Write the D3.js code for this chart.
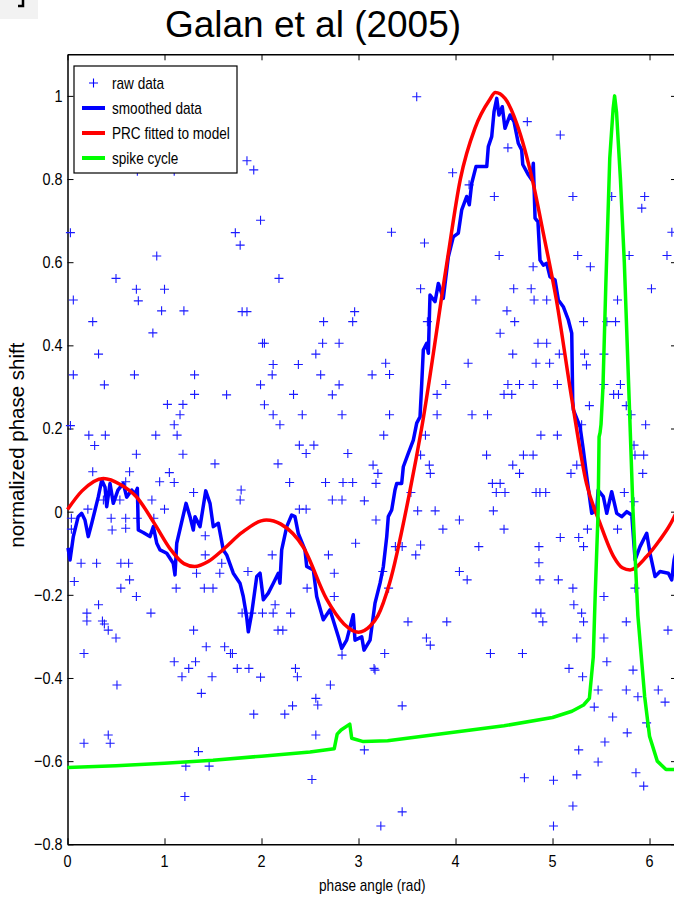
<!DOCTYPE html>
<html>
<head>
<meta charset="utf-8">
<script src="https://cdn.jsdelivr.net/npm/d3@7"></script>
<style>
  html, body { margin: 0; padding: 0; background: #fff; }
  svg { display: block; font-family: "Liberation Sans", Arial, Helvetica, sans-serif; }
</style>
</head>
<body>
<div id="chart"></div>
<script>
// phase angle (rad), normalized phase shift
const rawData = [
  [0.06,0.509],[0.26,0.457],[0.50,0.561],[0.71,0.535],[0.73,0.507],[1.00,0.535],[0.97,0.483],[1.20,0.483],
  [0.92,0.615],[0.88,0.430],[0.32,0.379],[0.06,0.329],[0.38,0.305],[0.69,0.329],[1.31,0.329],[1.31,0.282],
  [1.03,0.258],[1.19,0.258],[1.16,0.233],[1.10,0.209],[1.13,0.184],[1.19,0.138],[0.91,0.184],[0.71,0.138],
  [0.03,0.207],[0.22,0.184],[0.28,0.159],[0.39,0.184],[0.26,0.096],[0.64,0.096],[0.60,0.072],[0.95,0.072],
  [1.05,0.094],[1.10,0.070],[1.30,0.046],[0.87,0.028],[1.00,0.006],[0.04,-0.016],[0.21,0.006],[0.37,0.028],
  [0.54,0.028],[0.45,-0.016],[0.46,-0.044],[0.60,-0.016],[0.60,-0.040],[0.72,-0.016],[0.89,-0.016],[0.04,-0.042],
  [1.42,-0.058],[1.52,0.115],[1.64,0.281],[1.80,0.481],[1.85,0.481],[1.78,0.641],[2.18,0.561],[1.99,0.305],
  [2.01,0.405],[2.03,0.405],[2.12,0.354],[2.11,0.329],[2.03,0.257],[2.12,0.233],[2.19,0.209],[2.17,0.115],
  [2.33,0.282],[2.38,0.354],[2.42,0.233],[2.39,0.160],[2.46,0.140],[2.54,0.160],[2.29,0.070],[2.39,0.006],
  [2.46,0.006],[2.56,0.379],[2.63,0.405],[2.64,0.457],[2.61,0.329],[2.80,0.405],[2.80,0.305],[2.73,0.281],
  [2.83,0.233],[2.89,0.140],[2.66,0.070],[2.84,0.070],[2.94,0.070],[2.73,0.028],[2.83,0.028],[2.94,0.457],
  [2.96,0.481],[2.97,-0.076],[1.79,0.052],[1.78,0.028],
  [0.14,-0.124],[0.30,-0.124],[0.55,-0.124],[0.63,-0.124],[0.07,-0.168],[0.64,-0.164],[0.55,-0.184],[0.71,-0.204],
  [0.32,-0.224],[0.20,-0.244],[0.20,-0.263],[0.36,-0.263],[0.38,-0.270],[0.42,-0.285],[0.50,-0.304],[0.86,-0.244],
  [0.17,-0.341],[0.51,-0.417],[0.17,-0.557],[0.42,-0.537],[0.44,-0.557],[1.12,-0.184],[1.33,-0.148],[1.42,-0.104],
  [1.41,-0.184],[1.50,-0.184],[1.59,-0.124],[1.57,-0.148],[1.30,-0.285],[1.43,-0.325],[1.62,-0.325],[1.68,-0.341],
  [1.70,-0.341],[1.10,-0.361],[1.25,-0.377],[1.32,-0.361],[1.18,-0.397],[1.49,-0.397],[1.38,-0.437],[1.75,-0.377],
  [1.87,-0.377],[1.99,-0.398],[1.86,-0.144],[1.80,-0.244],[1.90,-0.244],[2.01,-0.244],[2.12,-0.244],[2.14,-0.224],
  [2.17,-0.285],[2.22,-0.285],[2.30,-0.244],[2.11,-0.104],[2.35,-0.377],[2.37,-0.397],[1.92,-0.487],[2.24,-0.487],
  [2.32,-0.467],[2.58,-0.465],[2.56,-0.449],[2.71,-0.417],[2.47,-0.184],[2.69,-0.104],[2.75,-0.148],[2.75,-0.204],
  [2.83,-0.345],[3.16,-0.377],[2.56,-0.537],[3.06,-0.573],[1.35,-0.577],[1.22,-0.612],[1.46,-0.612],[2.52,-0.644],
  [1.21,-0.685],
  [1.85,0.844],[0.72,0.819],[1.10,0.819],[0.03,0.671],[1.73,0.671],[1.99,0.701],[1.92,0.822],
  [3.60,0.998],[4.74,0.938],[5.08,0.906],[4.54,0.875],[3.97,0.815],[4.14,0.786],[4.40,0.758],[5.21,0.758],
  [5.61,0.758],[5.95,0.758],[5.92,0.730],[3.34,0.672],[3.68,0.646],[6.23,0.672],[4.45,0.616],[4.80,0.589],
  [5.26,0.616],[5.39,0.589],[5.79,0.616],[6.18,0.616],[6.02,0.536],[3.64,0.536],[4.60,0.536],[4.78,0.536],
  [4.21,0.509],[4.81,0.509],[4.94,0.509],[5.67,0.509],[3.71,0.457],[4.53,0.483],[4.61,0.457],[5.32,0.457],
  [5.56,0.457],[5.65,0.457],[4.46,0.429],[4.85,0.405],[4.94,0.405],[4.59,0.379],[5.07,0.379],[5.33,0.379],
  [5.53,0.379],[5.35,0.353],[3.28,0.357],[3.32,0.330],[3.14,0.329],[4.13,0.357],[4.83,0.357],[4.97,0.357],
  [3.90,0.306],[3.81,0.282],[4.54,0.306],[4.66,0.306],[4.80,0.306],[5.05,0.306],[4.50,0.282],[4.58,0.282],
  [5.53,0.306],[5.70,0.306],[5.63,0.282],[5.68,0.282],
  [5.38,0.255],[5.76,0.255],[5.81,0.233],[3.32,0.233],[3.81,0.233],[4.17,0.233],[4.33,0.233],[5.96,0.209],
  [5.30,0.209],[3.26,0.184],[3.69,0.184],[4.88,0.184],[5.05,0.184],[5.84,0.160],[3.64,0.136],[4.32,0.136],
  [4.70,0.136],[4.80,0.136],[5.85,0.136],[5.94,0.136],[3.15,0.112],[3.73,0.112],[4.59,0.112],[5.25,0.112],
  [3.20,0.092],[3.74,0.092],[4.66,0.092],[5.19,0.092],[5.93,0.092],[3.18,0.068],[4.38,0.068],[4.46,0.068],
  [3.06,0.026],[3.54,0.046],[4.42,0.046],[4.51,0.046],[4.83,0.046],[4.87,0.046],[4.93,0.046],[5.74,0.046],
  [5.84,0.024],[3.61,0.002],[3.79,0.002],[4.04,-0.020],[4.39,0.002],[3.18,-0.020],[3.87,-0.042],[4.50,-0.042],
  [5.36,-0.042],[5.67,-0.042],[5.08,-0.062],[5.27,-0.062],[5.32,-0.084],[3.38,-0.084],[3.45,-0.084],[3.64,-0.080],
  [3.59,-0.104],[4.24,-0.084],[4.86,-0.084],[4.86,-0.123],[4.04,-0.144],[4.12,-0.164],[3.25,-0.144],[4.87,-0.164],
  [5.06,-0.164],[5.21,-0.184],[5.53,-0.204],[5.85,-0.184],[3.31,-0.184],[5.22,-0.224],[5.30,-0.244],[4.83,-0.244],
  [4.88,-0.244],[4.90,-0.265],[5.32,-0.265],[5.76,-0.265],[3.51,-0.265],[3.91,-0.265],[6.19,-0.285],[5.25,-0.304],
  [5.53,-0.304],[3.70,-0.304],[3.74,-0.321],[3.27,-0.341],[4.36,-0.341],[4.69,-0.341],[5.17,-0.377],[5.56,-0.361],
  [5.83,-0.381],[5.31,-0.397],[5.88,-0.445],[3.17,-0.381],
  [3.45,-0.467],[3.23,-0.756],[3.45,-0.722],[4.71,-0.640],[5.01,-0.646],[5.01,-0.756],[5.21,-0.708],[5.94,-0.660],
  [5.27,-0.573],[5.47,-0.602],[5.54,-0.554],[5.77,-0.532],[5.86,-0.628],[5.97,-0.508],[6.09,-0.429],[6.16,-0.458],
  [5.25,-0.633],[5.47,-0.429],[5.76,-0.429],[5.62,-0.494],[5.43,-0.470]
];

const smoothedData = [
  [0.005,-0.087],[0.026,-0.116],[0.06,-0.060],[0.11,-0.012],[0.146,-0.004],[0.18,-0.02],[0.214,-0.060],[0.25,-0.028],
  [0.284,0.004],[0.318,0.036],[0.353,0.076],[0.387,0.059],[0.404,0.012],[0.438,0.068],[0.472,0.020],[0.52,0.052],
  [0.575,0.068],[0.61,0.035],[0.662,0.052],[0.696,0.043],[0.72,0.056],[0.73,-0.044],[0.78,-0.050],[0.85,-0.060],
  [0.885,-0.036],[0.92,-0.076],[0.954,-0.092],[1.023,-0.100],[1.09,-0.124],[1.108,-0.152],[1.126,-0.076],[1.222,0.020],
  [1.263,-0.012],[1.297,-0.044],[1.314,-0.012],[1.366,-0.036],[1.425,0.050],[1.469,0.020],[1.503,-0.036],[1.555,-0.028],
  [1.606,-0.092],[1.641,-0.104],[1.709,-0.148],[1.778,-0.172],[1.812,-0.204],[1.847,-0.253],[1.864,-0.289],[1.899,-0.244],
  [1.951,-0.156],[1.985,-0.148],[2.019,-0.212],[2.07,-0.196],[2.122,-0.172],[2.173,-0.148],[2.19,-0.172],[2.208,-0.092],
  [2.26,-0.036],[2.311,-0.008],[2.345,-0.012],[2.379,-0.052],[2.448,-0.092],[2.466,-0.132],[2.534,-0.140],[2.569,-0.204],
  [2.637,-0.260],[2.706,-0.236],[2.792,-0.301],[2.827,-0.329],[2.878,-0.309],[2.946,-0.248],[2.964,-0.309],[3.033,-0.301],
  [3.057,-0.333],[3.119,-0.309],[3.170,-0.220],[3.222,-0.172],[3.256,-0.132],[3.291,-0.060],[3.307,-0.012],[3.342,0.004],
  [3.376,0.052],[3.394,0.068],[3.445,0.068],[3.462,0.108],[3.513,0.140],[3.565,0.172],[3.6,0.213],[3.634,0.228],
  [3.652,0.309],[3.668,0.389],[3.703,0.405],[3.72,0.381],[3.737,0.521],[3.789,0.505],[3.823,0.549],[3.874,0.513],
  [3.926,0.613],[3.977,0.661],[4.029,0.670],[4.064,0.726],[4.115,0.758],[4.142,0.738],[4.167,0.790],[4.211,0.830],
  [4.322,0.830],[4.338,0.878],[4.373,0.902],[4.397,0.962],[4.425,0.994],[4.448,0.954],[4.482,0.974],[4.510,0.922],
  [4.562,0.954],[4.603,0.938],[4.647,0.886],[4.682,0.870],[4.693,0.835],[4.751,0.810],[4.786,0.798],[4.802,0.838],
  [4.82,0.706],[4.85,0.697],[4.871,0.605],[4.905,0.593],[4.940,0.597],[4.974,0.565],[5.026,0.557],[5.060,0.509],
  [5.111,0.493],[5.163,0.461],[5.198,0.429],[5.208,0.269],[5.215,0.245],[5.284,0.204],[5.318,0.148],[5.353,0.084],
  [5.404,-0.004],[5.456,0.004],[5.47,0.052],[5.524,0.036],[5.559,-0.004],[5.610,0.048],[5.662,-0.004],[5.713,-0.012],
  [5.765,0.000],[5.817,-0.008],[5.851,-0.116],[5.902,-0.084],[5.971,-0.052],[6.005,-0.100],[6.057,-0.156],[6.108,-0.144],
  [6.194,-0.148],[6.229,-0.164],[6.253,-0.116],[6.28,-0.09]
];

const prcFit = [
  [0,0.005],[0.15,0.05],[0.37,0.08],[0.55,0.065],[0.71,0.036],[0.9,-0.03],[1.06,-0.09],[1.2,-0.125],[1.31,-0.132],
  [1.45,-0.12],[1.61,-0.09],[1.8,-0.05],[2.05,-0.02],[2.2,-0.03],[2.43,-0.085],[2.67,-0.21],[2.85,-0.27],[3.0,-0.29],
  [3.12,-0.275],[3.2,-0.25],[3.32,-0.172],[3.53,0.05],[3.65,0.2],[3.91,0.597],[4.05,0.80],[4.2,0.922],[4.35,0.99],
  [4.41,1.008],[4.51,0.994],[4.63,0.934],[4.8,0.79],[4.905,0.67],[5.04,0.509],[5.2,0.269],[5.35,0.068],[5.49,-0.028],
  [5.63,-0.108],[5.72,-0.135],[5.80,-0.14],[5.97,-0.108],[6.1,-0.07],[6.21,-0.032],[6.28,0.0]
];

const spikeCycle = [
  [0,-0.615],[0.5,-0.611],[1.0,-0.605],[1.5,-0.598],[2.0,-0.588],[2.5,-0.578],[2.75,-0.570],[2.78,-0.535],
  [2.82,-0.525],[2.91,-0.511],[2.93,-0.545],[3.05,-0.553],[3.3,-0.551],[3.5,-0.545],[4.0,-0.530],[4.5,-0.515],
  [5.0,-0.495],[5.2,-0.480],[5.32,-0.465],[5.38,-0.449],[5.42,-0.35],[5.44,-0.20],[5.47,0.0],[5.48,0.18],
  [5.49,0.19],[5.50,0.21],[5.52,0.30],[5.55,0.55],[5.59,0.85],[5.625,0.97],[5.64,1.0],[5.66,0.96],[5.70,0.8],
  [5.74,0.6],[5.79,0.27],[5.83,0.0],[5.88,-0.25],[5.95,-0.445],[6.0,-0.54],[6.08,-0.6],[6.17,-0.62],[6.28,-0.62]
];

const xTicks = [0, 1, 2, 3, 4, 5, 6];
const yTicks = [-0.8, -0.6, -0.4, -0.2, 0, 0.2, 0.4, 0.6, 0.8, 1];
const legendItems = [
  { label: 'raw data', type: 'cross', color: '#0000ff' },
  { label: 'smoothed data', type: 'line', color: '#0000ff' },
  { label: 'PRC fitted to model', type: 'line', color: '#ff0000' },
  { label: 'spike cycle', type: 'line', color: '#00ff00' },
];

const W = 674, H = 901;
const plot = { left: 67.5, right: 677, top: 54.3, bottom: 844.3 };

const svg = d3.select('#chart').append('svg')
  .attr('width', W)
  .attr('height', H)
  .attr('viewBox', `0 0 ${W} ${H}`);

const x = d3.scaleLinear().domain([0, 2 * Math.PI]).range([plot.left, plot.right]);
const y = d3.scaleLinear().domain([-0.8, 1.1]).range([plot.bottom, plot.top]);

// narrow text, the original figure's fonts look squeezed
function narrowText(parent, tx, ty, str, { size = 16, anchor = 'start', sx = 0.85, baseline = '0.35em' } = {}) {
  return parent.append('text')
    .attr('transform', `translate(${tx},${ty}) scale(${sx},1)`)
    .attr('text-anchor', anchor)
    .attr('dy', baseline)
    .attr('font-size', size)
    .attr('fill', '#000')
    .text(str);
}

// scrap of a neighbouring panel at top left
svg.append('rect').attr('x', 0).attr('y', 0).attr('width', 38).attr('height', 19).attr('fill', '#f2f2f2');
svg.append('path').attr('d', 'M23,0V6H18').attr('fill', 'none').attr('stroke', '#000').attr('stroke-width', 2.5);

// title
svg.append('text')
  .attr('x', 313).attr('y', 37)
  .attr('text-anchor', 'middle')
  .attr('font-size', 37)
  .text('Galan et al (2005)');

// plot frame + ticks (inward, all four sides)
const tick = 6;
svg.append('g').attr('transform', `translate(0,${plot.bottom})`)
  .call(d3.axisBottom(x).tickValues(xTicks).tickSizeInner(-tick).tickSizeOuter(0).tickFormat(''));
svg.append('g').attr('transform', `translate(0,${plot.top})`)
  .call(d3.axisTop(x).tickValues(xTicks).tickSizeInner(-tick).tickSizeOuter(0).tickFormat(''));
svg.append('g').attr('transform', `translate(${plot.left},0)`)
  .call(d3.axisLeft(y).tickValues(yTicks).tickSizeInner(-tick).tickSizeOuter(0).tickFormat(''));
svg.append('g').attr('transform', `translate(${plot.right},0)`)
  .call(d3.axisRight(y).tickValues(yTicks).tickSizeInner(-tick).tickSizeOuter(0).tickFormat(''));
svg.selectAll('.domain').attr('stroke', '#000').attr('stroke-width', 1.5);
svg.selectAll('.tick line').attr('stroke', '#000').attr('stroke-width', 1);

// tick labels
const fmtTick = d => (d < 0 ? '\u2212' : '') + d3.format('')(Math.abs(d));
xTicks.forEach(d => narrowText(svg, x(d), plot.bottom + 17, fmtTick(d), { anchor: 'middle', size: 17 }));
yTicks.forEach(d => narrowText(svg, plot.left - 5, y(d), fmtTick(d), { anchor: 'end', size: 17 }));

// axis titles
narrowText(svg, (plot.left + plot.right) / 2, 885, 'phase angle (rad)', { anchor: 'middle', size: 16 });
svg.append('text')
  .attr('transform', `translate(24,${y(0.16)}) rotate(-90)`)
  .attr('text-anchor', 'middle')
  .attr('font-size', 20.5)
  .text('normalized phase shift');

// data
const gData = svg.append('g');
gData.selectAll('path.raw')
  .data(rawData)
  .join('path')
  .attr('class', 'raw')
  .attr('transform', d => `translate(${x(d[0])},${y(d[1])})`)
  .attr('d', 'M-4.5,0H4.5M0,-4.5V4.5')
  .attr('stroke', '#1a1aff')
  .attr('stroke-width', 1.1)
  .attr('fill', 'none');

const line = d3.line().x(d => x(d[0])).y(d => y(d[1]));
gData.append('path')
  .datum(smoothedData)
  .attr('d', line)
  .attr('fill', 'none')
  .attr('stroke', '#0000ff')
  .attr('stroke-width', 3.5)
  .attr('stroke-linejoin', 'round');

gData.append('path')
  .datum(prcFit)
  .attr('d', d3.line().x(d => x(d[0])).y(d => y(d[1])).curve(d3.curveMonotoneX))
  .attr('fill', 'none')
  .attr('stroke', '#ff0000')
  .attr('stroke-width', 3.5);

gData.append('path')
  .datum(spikeCycle)
  .attr('d', line)
  .attr('fill', 'none')
  .attr('stroke', '#00ff00')
  .attr('stroke-width', 3.5)
  .attr('stroke-linejoin', 'round');

// legend
const lg = svg.append('g');
lg.append('rect')
  .attr('x', 74).attr('y', 66).attr('width', 163).attr('height', 107)
  .attr('fill', '#fff').attr('stroke', '#000').attr('stroke-width', 1.2);
legendItems.forEach((it, i) => {
  const ly = 83 + i * 25;
  if (it.type === 'cross') {
    lg.append('path')
      .attr('transform', `translate(93.5,${ly})`)
      .attr('d', 'M-4.5,0H4.5M0,-4.5V4.5')
      .attr('stroke', it.color).attr('stroke-width', 1.1);
  } else {
    lg.append('line')
      .attr('x1', 82).attr('x2', 105).attr('y1', ly).attr('y2', ly)
      .attr('stroke', it.color).attr('stroke-width', 4);
  }
  narrowText(lg, 112, ly, it.label, { size: 16 });
});
</script>
</body>
</html>
